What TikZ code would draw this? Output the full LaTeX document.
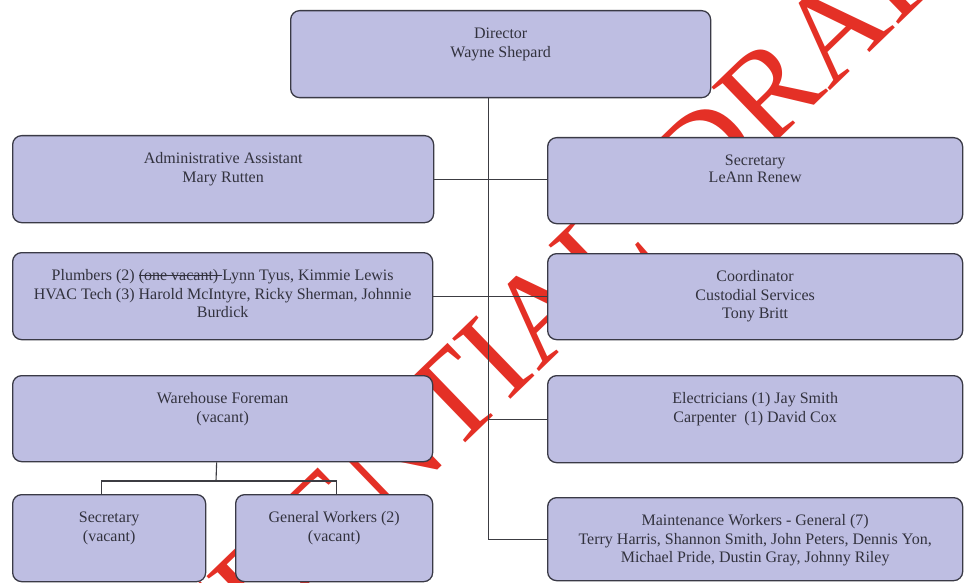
\documentclass[tikz,border=0pt]{standalone}
\usepackage{fontspec}
\setmainfont{Liberation Serif}

\definecolor{boxfill}{RGB}{190,190,226}
\definecolor{boxline}{RGB}{58,58,70}
\definecolor{inkgray}{RGB}{50,50,62}
\definecolor{wirecol}{RGB}{60,60,66}
\definecolor{stampred}{RGB}{228,48,38}

% top-aligned, centred text block of a given width and height
\newcommand\orgbox[3]{\parbox[c][#2][t]{#1}{\centering\rule{0pt}{28pt}#3}}
% struck-through words
\newsavebox\strikebox
\newcommand\strikeout[1]{\sbox\strikebox{#1}\rlap{\rule[0.3em]{\wd\strikebox}{0.07em}}\usebox\strikebox}

\tikzset{
  unit/.style={draw=boxline, line width=1.3pt, fill=boxfill, rounded corners=9pt,
    inner sep=0pt, anchor=north west, text=inkgray,
    font=\fontsize{16}{18.4}\selectfont},
  wire/.style={draw=wirecol, line width=1.1pt},
  stamp/.style={text=stampred, inner sep=0pt, font=\fontsize{128}{130}\selectfont}
}

\begin{document}
\begin{tikzpicture}[x=1pt, y=-1pt]
  \useasboundingbox (0,0) rectangle (964,583);
  \fill[white] (0,0) rectangle (964,583);

  % draft stamp lies under the chart
  \node[stamp, rotate=44, anchor=base west] (draftmark) at (-14,906)
    {CONFIDENTIAL\hspace{24pt} DRAFT};

  % boxes
  \node[unit] (dir)   at (290,10)  {\orgbox{420pt}{87pt}{Director\\Wayne Shepard}};
  \node[unit] (admin) at (12,135)  {\orgbox{421pt}{87pt}{Administrative Assistant\\Mary Rutten}};
  \node[unit] (sec)   at (547,137) {\orgbox{415pt}{86pt}{\vspace*{-2pt}Secretary\\LeAnn Renew}};
  \node[unit] (plumb) at (12,252)  {\orgbox{420pt}{87pt}{Plumbers (2) \strikeout{(one vacant) }Lynn Tyus, Kimmie Lewis\\HVAC Tech (3) Harold McIntyre, Ricky Sherman, Johnnie\\Burdick}};
  \node[unit] (coord) at (547,253) {\orgbox{415pt}{86pt}{Coordinator\\Custodial Services\\Tony Britt}};
  \node[unit] (wh)    at (12,375)  {\orgbox{420pt}{86pt}{Warehouse Foreman\\(vacant)}};
  \node[unit] (elec)  at (547,375) {\orgbox{415pt}{87pt}{Electricians (1) Jay Smith\\Carpenter\ \ (1) David Cox}};
  \node[unit] (secv)  at (12,494)  {\orgbox{193pt}{87pt}{Secretary\\(vacant)}};
  \node[unit] (genw)  at (235,494) {\orgbox{197pt}{87pt}{General Workers (2)\\(vacant)}};
  \node[unit] (maint) at (547,497) {\orgbox{415pt}{83pt}{Maintenance Workers - General (7)\\Terry Harris, Shannon Smith, John Peters, Dennis Yon,\\Michael Pride, Dustin Gray, Johnny Riley}};

  % connectors
  \coordinate (trunk) at ([xshift=-12pt]dir.south);
  \draw[wire] (trunk) |- (maint.west);
  \draw[wire] (trunk |- elec.west) -- (elec.west);
  \draw[wire] (admin.east) -- (admin.east -| sec.west);
  \draw[wire] (plumb.east) -- (plumb.east -| coord.west);

  \coordinate (whjoin) at (216,481);
  \draw[wire] ([xshift=-6pt]wh.south) -- (whjoin);
  \draw[wire] ([xshift=-8pt]secv.north) |- (whjoin) -| ([xshift=2pt]genw.north);
\end{tikzpicture}
\end{document}
